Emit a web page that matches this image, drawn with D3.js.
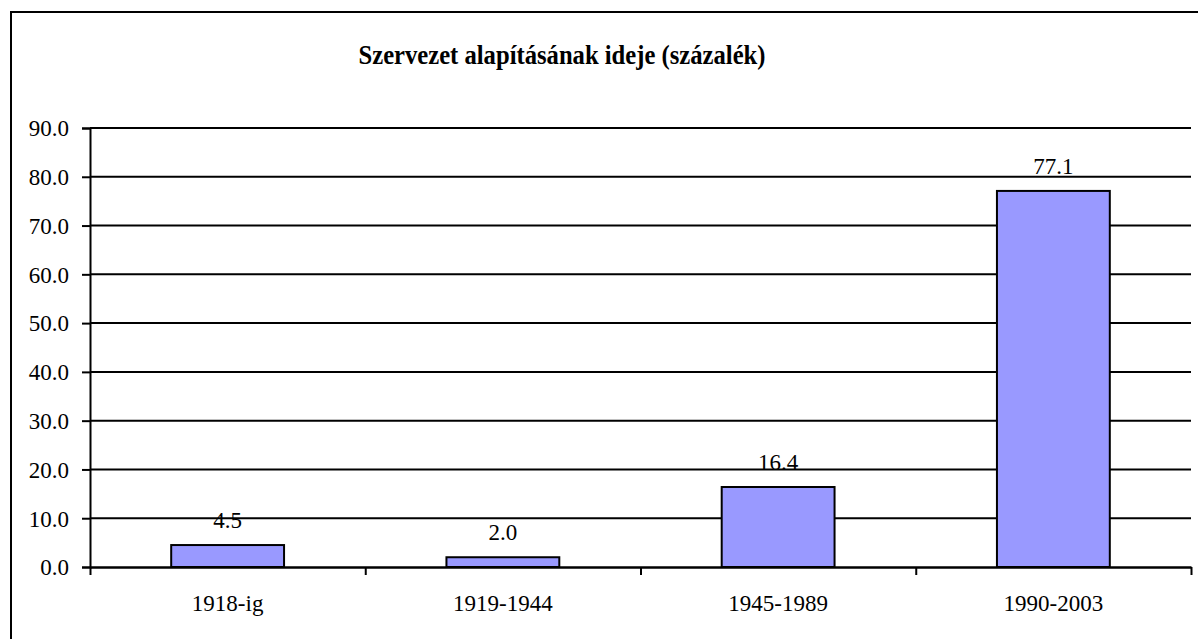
<!DOCTYPE html>
<html>
<head>
<meta charset="utf-8">
<script src="https://cdn.jsdelivr.net/npm/d3@7"></script>
<style>
  html, body { margin: 0; padding: 0; background: #fff; }
  svg { display: block; }
  text { font-family: "Liberation Serif", "Times New Roman", Times, serif; fill: #000; }
</style>
</head>
<body>
<svg id="chart" width="1198" height="639"></svg>
<script>
const titleText = "Szervezet alapításának ideje (százalék)";
const categories = ["1918-ig", "1919-1944", "1945-1989", "1990-2003"];
const values = [4.5, 2.0, 16.4, 77.1];
const yTicks = [0, 10, 20, 30, 40, 50, 60, 70, 80, 90];

const svg = d3.select("#chart");
const W = 1198, H = 639;
const margin = { left: 90, right: 7, top: 128, bottom: 72 };
const x0 = margin.left, x1 = W - margin.right;
const yTop = margin.top, yBot = H - margin.bottom;

svg.append("rect").attr("x", 0).attr("y", 0).attr("width", W).attr("height", H).attr("fill", "#fff");

// outer chart border (right/bottom fall outside the picture)
svg.append("rect")
  .attr("x", 11).attr("y", 12)
  .attr("width", W + 20).attr("height", H + 20)
  .attr("fill", "none").attr("stroke", "#000").attr("stroke-width", 2);

const x = d3.scaleBand().domain(categories).range([x0, x1]).padding(0);
const y = d3.scaleLinear().domain([0, 90]).range([yBot, yTop]);
const barFrac = 0.41;

// gridlines
svg.append("g").selectAll("line").data(yTicks.filter(d => d > 0)).join("line")
  .attr("x1", x0).attr("x2", x1)
  .attr("y1", d => y(d)).attr("y2", d => y(d))
  .attr("stroke", "#000").attr("stroke-width", 2);

// y axis
const yAxis = d3.axisLeft(y).tickValues(yTicks).tickFormat(d3.format(".1f")).tickSize(8).tickPadding(13);
const gy = svg.append("g").attr("transform", `translate(${x0},0)`).call(yAxis);
gy.attr("font-family", null);
gy.select(".domain").attr("stroke", "#000").attr("stroke-width", 2);
gy.selectAll(".tick line").attr("stroke", "#000").attr("stroke-width", 2);
gy.selectAll(".tick text").attr("font-size", 23).attr("dy", "0.34em");

// bars
svg.append("g").selectAll("rect").data(values).join("rect")
  .attr("x", (d, i) => x(categories[i]) + x.bandwidth() * (1 - barFrac) / 2)
  .attr("width", x.bandwidth() * barFrac)
  .attr("y", d => y(d))
  .attr("height", d => y(0) - y(d))
  .attr("fill", "#9999FF")
  .attr("stroke", "#000").attr("stroke-width", 2);

// x axis
const xAxisScale = d3.scaleLinear().domain([0, categories.length]).range([x0, x1]);
const gx = svg.append("g").attr("transform", `translate(0,${yBot})`)
  .call(d3.axisBottom(xAxisScale).tickValues(d3.range(categories.length + 1)).tickFormat("").tickSize(8).tickSizeOuter(0));
gx.select(".domain").attr("stroke", "#000").attr("stroke-width", 2.5);
gx.selectAll(".tick line").attr("stroke", "#000").attr("stroke-width", 2);

// category labels
svg.append("g").selectAll("text").data(categories).join("text")
  .attr("x", d => x(d) + x.bandwidth() / 2)
  .attr("y", yBot + 44)
  .attr("text-anchor", "middle")
  .attr("font-size", 23)
  .text(d => d);

// value labels
svg.append("g").selectAll("text").data(values).join("text")
  .attr("x", (d, i) => x(categories[i]) + x.bandwidth() / 2)
  .attr("y", d => y(d) - 17)
  .attr("text-anchor", "middle")
  .attr("font-size", 23)
  .text(d => d3.format(".1f")(d));

// title
svg.append("text")
  .attr("x", 562).attr("y", 64)
  .attr("text-anchor", "middle")
  .attr("font-size", 27.5)
  .attr("font-weight", "bold")
  .attr("textLength", 407)
  .attr("lengthAdjust", "spacingAndGlyphs")
  .text(titleText);
</script>
</body>
</html>
